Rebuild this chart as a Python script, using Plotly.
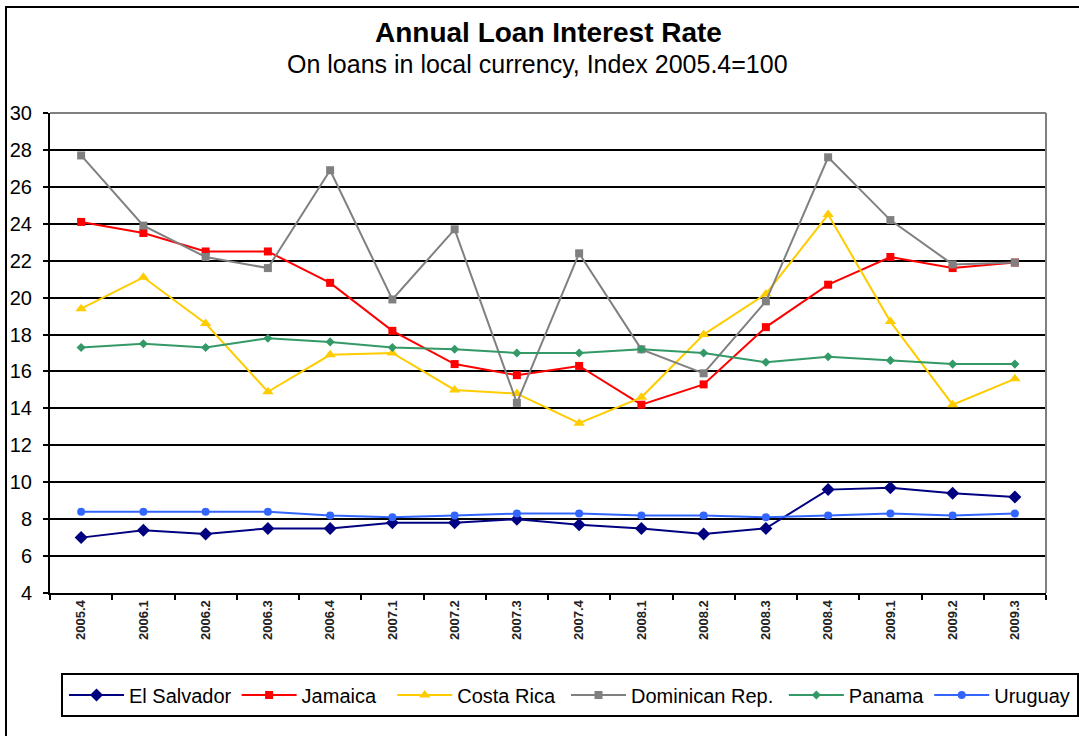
import plotly.graph_objects as go

# Quarterly observations
quarters = ["2005.4", "2006.1", "2006.2", "2006.3", "2006.4", "2007.1", "2007.2", "2007.3",
            "2007.4", "2008.1", "2008.2", "2008.3", "2008.4", "2009.1", "2009.2", "2009.3"]

el_salvador = [7.0, 7.4, 7.2, 7.5, 7.5, 7.8, 7.8, 8.0, 7.7, 7.5, 7.2, 7.5, 9.6, 9.7, 9.4, 9.2]
jamaica = [24.1, 23.5, 22.5, 22.5, 20.8, 18.2, 16.4, 15.8, 16.3, 14.2, 15.3, 18.4, 20.7, 22.2, 21.6, 21.9]
costa_rica = [19.4, 21.1, 18.6, 14.9, 16.9, 17.0, 15.0, 14.8, 13.2, 14.6, 18.0, 20.2, 24.5, 18.7, 14.2, 15.6]
dominican_rep = [27.7, 23.9, 22.2, 21.6, 26.9, 19.9, 23.7, 14.3, 22.4, 17.2, 15.9, 19.8, 27.6, 24.2, 21.8, 21.9]
panama = [17.3, 17.5, 17.3, 17.8, 17.6, 17.3, 17.2, 17.0, 17.0, 17.2, 17.0, 16.5, 16.8, 16.6, 16.4, 16.4]
uruguay = [8.4, 8.4, 8.4, 8.4, 8.2, 8.1, 8.2, 8.3, 8.3, 8.2, 8.2, 8.1, 8.2, 8.3, 8.2, 8.3]

series_names = ["El Salvador", "Jamaica", "Costa Rica", "Dominican Rep.", "Panama", "Uruguay"]
series_values = [el_salvador, jamaica, costa_rica, dominican_rep, panama, uruguay]

y_ticks = list(range(4, 31, 2))

# Styling per series
colors = ["#000080", "#FF0000", "#FFCC00", "#808080", "#339966", "#3366FF"]
symbols = ["diamond", "square", "triangle-up", "square", "diamond", "circle"]
sizes = [10, 8, 10, 8, 7, 8]
# legend row is split in two halves so the entries keep their spacing
legend_ids = ["legend", "legend", "legend", "legend2", "legend2", "legend2"]
# extra spacing after each legend label (non-breaking spaces)
legend_pad = [0, 2, 0, 1, 0, 0]

FONT = "Liberation Sans, Arial, sans-serif"
W, H = 1079, 736
ML, MR, MT, MB = 50, 33, 113, 143
PW, PH = W - ML - MR, H - MT - MB


def px_x(px):
    return (px - ML) / PW


def px_y(py):
    return (H - MB - py) / PH


fig = go.Figure()
for name, vals, c, s, sz, lg, pad in zip(series_names, series_values, colors, symbols,
                                         sizes, legend_ids, legend_pad):
    fig.add_trace(go.Scatter(
        x=quarters, y=vals, name=name + "\u00a0" * pad, mode="lines+markers",
        line=dict(color=c, width=2),
        marker=dict(symbol=s, size=sz, color=c, line=dict(width=0)),
        legend=lg,
        hovertemplate=name + ": %{y}<extra></extra>",
    ))

legend_style = dict(
    orientation="h", xanchor="left", y=px_y(695), yanchor="middle",
    font=dict(size=20, family=FONT, color="black"),
    itemwidth=55, borderwidth=0, bgcolor="rgba(0,0,0,0)", traceorder="normal",
)

fig.update_layout(
    width=W, height=H,
    margin=dict(l=ML, r=MR, t=MT, b=MB, autoexpand=False),
    paper_bgcolor="white", plot_bgcolor="white",
    font=dict(family=FONT, color="black"),
    showlegend=True,
    legend=dict(x=px_x(64), **legend_style),
    legend2=dict(x=px_x(566), **legend_style),
    xaxis=dict(
        type="category", tickson="boundaries", ticks="outside", ticklen=5,
        tickcolor="black", tickwidth=2, tickangle=-90,
        tickfont=dict(size=13, family=FONT, color="#222222", weight="bold"),
        showline=True, linecolor="black", linewidth=2, showgrid=False,
        range=[-0.5, len(quarters) - 0.5],
    ),
    yaxis=dict(
        range=[4, 30], tickvals=y_ticks, ticks="outside", ticklen=5,
        tickcolor="black", tickwidth=2, ticklabelstandoff=7,
        tickfont=dict(size=20, family=FONT, color="black"),
        showline=True, linecolor="black", linewidth=2,
        showgrid=True, gridcolor="black", gridwidth=2, zeroline=False,
    ),
    annotations=[
        dict(text="<b>Annual Loan Interest Rate</b>", xref="paper", yref="paper",
             x=px_x(548), y=px_y(33), xanchor="center", yanchor="middle", showarrow=False,
             font=dict(size=28, family=FONT, color="black")),
        dict(text="On loans in local currency, Index 2005.4=100", xref="paper", yref="paper",
             x=px_x(537), y=px_y(64), xanchor="center", yanchor="middle", showarrow=False,
             font=dict(size=25, family=FONT, color="black")),
    ],
    shapes=[
        # outer chart frame
        dict(type="rect", xref="paper", yref="paper",
             x0=px_x(6), x1=px_x(1090), y0=px_y(750), y1=px_y(7),
             line=dict(color="black", width=2), fillcolor="rgba(0,0,0,0)", layer="above"),
        # plot area top and right border
        dict(type="line", xref="paper", yref="paper", x0=0, x1=1, y0=1, y1=1,
             line=dict(color="#808080", width=2)),
        dict(type="line", xref="paper", yref="paper", x0=1, x1=1, y0=0, y1=1,
             line=dict(color="#808080", width=2)),
        # legend frame
        dict(type="rect", xref="paper", yref="paper",
             x0=px_x(62), x1=px_x(1078), y0=px_y(716), y1=px_y(674),
             line=dict(color="black", width=2), fillcolor="rgba(0,0,0,0)", layer="above"),
    ],
)

fig.write_html("out.html")
